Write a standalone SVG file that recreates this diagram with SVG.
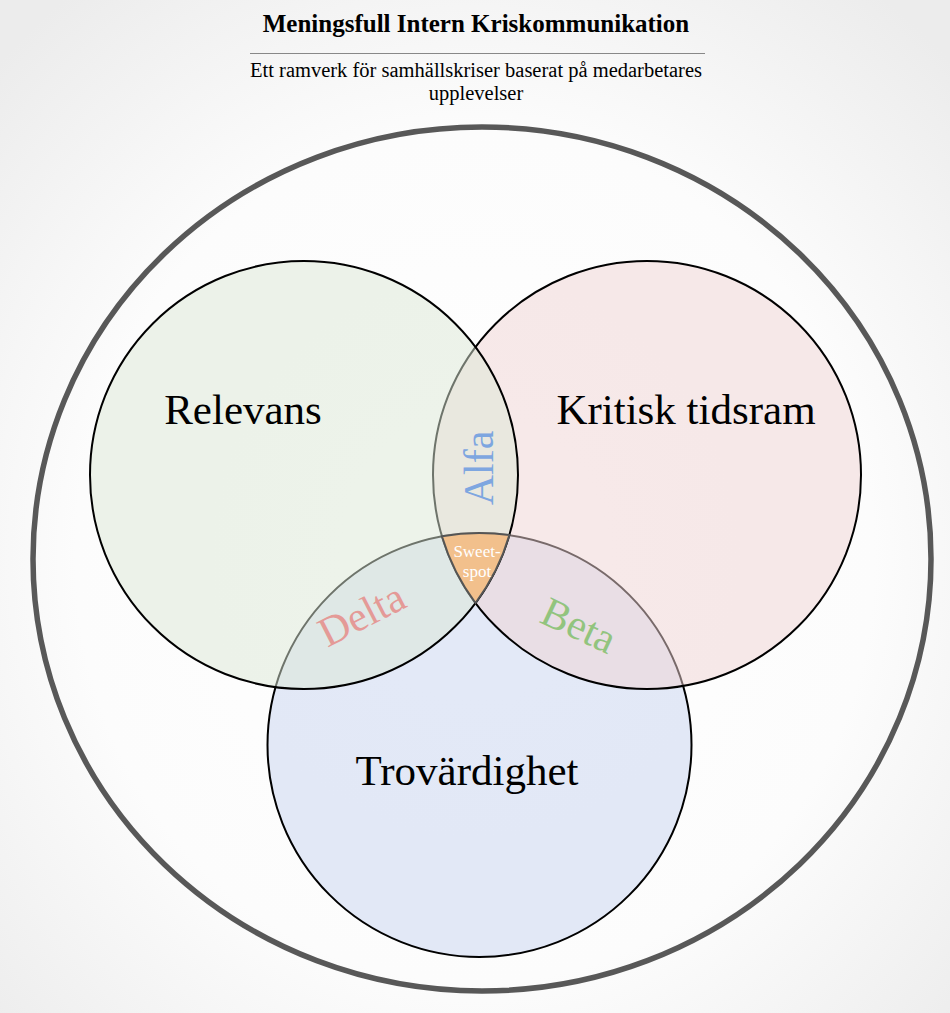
<svg xmlns="http://www.w3.org/2000/svg" width="950" height="1013" viewBox="0 0 950 1013">
<defs>
<radialGradient id="bg" cx="50%" cy="55%" r="70%">
<stop offset="0" stop-color="#ffffff"/>
<stop offset="0.6" stop-color="#fcfcfc"/>
<stop offset="1" stop-color="#ececec"/>
</radialGradient>
<style>
.serif{font-family:"Liberation Serif","Times New Roman",serif}
.big{font-size:43px;text-anchor:middle;fill:#000}
.set{stroke:#000;stroke-width:2;fill-opacity:0.5}
.mid{font-size:42px;text-anchor:middle}
</style>
</defs>
<rect width="950" height="1013" fill="url(#bg)"/>
<g id="title" class="serif">
<text x="476" y="32" font-size="25" font-weight="bold" text-anchor="middle">Meningsfull Intern Kriskommunikation</text>
<line x1="250" y1="53.5" x2="705" y2="53.5" stroke="#888" stroke-width="1"/>
<text x="476" y="77" font-size="20.5" text-anchor="middle">Ett ramverk för samhällskriser baserat på medarbetares</text>
<text x="476" y="100" font-size="20.5" text-anchor="middle">upplevelser</text>
</g>
<g id="outer">
<ellipse cx="482" cy="559" rx="449" ry="432" fill="none" stroke="#585858" stroke-width="5.5"/>
</g>
<g id="trovardighet">
<circle class="set" cx="479.5" cy="745" r="212" fill="#c7d3ef"/>
</g>
<g id="kritisk-tidsram">
<circle class="set" cx="647" cy="475" r="214" fill="#efd3d3"/>
</g>
<g id="relevans">
<circle class="set" cx="304" cy="475" r="214" fill="#dbe7d5"/>
</g>
<g id="sweetspot">
<path d="M441.9,536.3 A212,212 0 0 1 509.4,535.1 A214,214 0 0 1 475.5,603 A214,214 0 0 1 441.9,536.3 Z" fill="#f2c08c" stroke="#555" stroke-width="2"/>
<text class="serif" x="477" y="557" font-size="17" fill="#fff" text-anchor="middle">Sweet-</text>
<text class="serif" x="477" y="577" font-size="17" fill="#fff" text-anchor="middle">spot</text>
</g>
<g id="labels" class="serif">
<text class="big" x="243" y="424">Relevans</text>
<text class="big" x="686" y="424">Kritisk tidsram</text>
<text class="big" x="467" y="785">Trovärdighet</text>
<text class="mid" fill="#7ea6e0" transform="translate(493,468) rotate(-90)">Alfa</text>
<text class="mid" fill="#e49a97" transform="translate(368,627) rotate(-27)">Delta</text>
<text class="mid" fill="#92c47e" transform="translate(573,638) rotate(25)">Beta</text>
</g>
</svg>
